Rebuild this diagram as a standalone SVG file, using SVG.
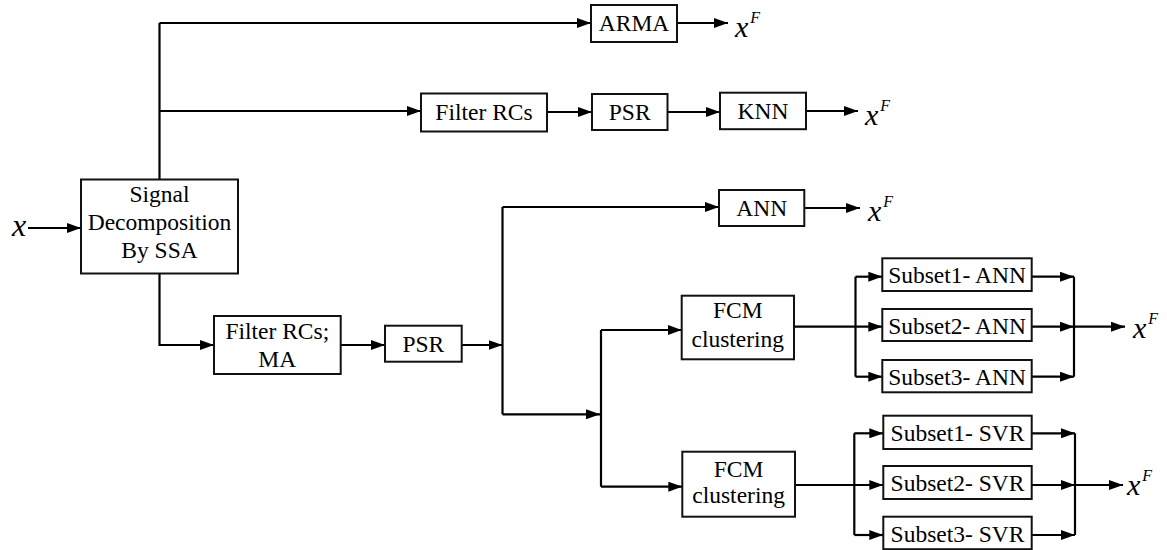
<svg xmlns="http://www.w3.org/2000/svg" width="1167" height="550" viewBox="0 0 1167 550">
<defs>
<marker id="ah" markerUnits="userSpaceOnUse" markerWidth="14" markerHeight="10" refX="14" refY="5" orient="auto"><path d="M0,0 L14,5 L0,10 z" fill="#000"/></marker>
</defs>
<rect width="1167" height="550" fill="#fff"/>
<g id="connectors" fill="none" stroke="#000" stroke-width="2.2">
<line marker-end="url(#ah)" x1="28" y1="228" x2="81" y2="228"/>
<line x1="159.5" y1="179.5" x2="159.5" y2="23"/>
<line marker-end="url(#ah)" x1="159.5" y1="23" x2="591" y2="23"/>
<line marker-end="url(#ah)" x1="159.5" y1="111" x2="421" y2="111"/>
<line marker-end="url(#ah)" x1="677" y1="23" x2="728" y2="23"/>
<line marker-end="url(#ah)" x1="547" y1="112" x2="592" y2="112"/>
<line marker-end="url(#ah)" x1="667.5" y1="112" x2="720" y2="112"/>
<line marker-end="url(#ah)" x1="806" y1="111" x2="858" y2="111"/>
<polyline marker-end="url(#ah)" points="159.5,273.5 159.5,345 214,345"/>
<line marker-end="url(#ah)" x1="340.7" y1="345" x2="385" y2="345"/>
<line marker-end="url(#ah)" x1="461.7" y1="345" x2="502.5" y2="345"/>
<line x1="502.5" y1="207" x2="502.5" y2="414.3"/>
<line marker-end="url(#ah)" x1="502.5" y1="207" x2="719" y2="207"/>
<line marker-end="url(#ah)" x1="804.3" y1="208" x2="860" y2="208"/>
<line marker-end="url(#ah)" x1="502.5" y1="414.3" x2="600" y2="414.3"/>
<line x1="601" y1="330" x2="601" y2="486.7"/>
<line marker-end="url(#ah)" x1="601" y1="330" x2="681.7" y2="330"/>
<line marker-end="url(#ah)" x1="601" y1="486.7" x2="682.3" y2="486.7"/>
<line marker-end="url(#ah)" x1="794" y1="326.7" x2="882.3" y2="326.7"/>
<line x1="855.5" y1="276.7" x2="855.5" y2="376.7"/>
<line marker-end="url(#ah)" x1="855.5" y1="276.7" x2="882.3" y2="276.7"/>
<line marker-end="url(#ah)" x1="855.5" y1="376.7" x2="882.3" y2="376.7"/>
<line marker-end="url(#ah)" x1="1031.7" y1="276.7" x2="1074" y2="276.7"/>
<line marker-end="url(#ah)" x1="1031.7" y1="326.7" x2="1074" y2="326.7"/>
<line marker-end="url(#ah)" x1="1031.7" y1="376.7" x2="1074" y2="376.7"/>
<line x1="1074" y1="276.7" x2="1074" y2="376.7"/>
<line marker-end="url(#ah)" x1="1074" y1="326.7" x2="1125" y2="326.7"/>
<line marker-end="url(#ah)" x1="795" y1="485" x2="883.3" y2="485"/>
<line x1="854.3" y1="433.3" x2="854.3" y2="535"/>
<line marker-end="url(#ah)" x1="854.3" y1="433.3" x2="883.3" y2="433.3"/>
<line marker-end="url(#ah)" x1="854.3" y1="535" x2="883.3" y2="535"/>
<line marker-end="url(#ah)" x1="1031.7" y1="433.3" x2="1075" y2="433.3"/>
<line marker-end="url(#ah)" x1="1031.7" y1="485" x2="1075" y2="485"/>
<line marker-end="url(#ah)" x1="1031.7" y1="535" x2="1075" y2="535"/>
<line x1="1075" y1="433.3" x2="1075" y2="535"/>
<line marker-end="url(#ah)" x1="1075" y1="485" x2="1123" y2="485"/>
</g>
<g fill="#fff" stroke="#111" stroke-width="2">
<rect id="ssa-box" x="81" y="179.5" width="157" height="94"/>
<rect id="arma-box" x="591" y="5" width="86" height="37"/>
<rect id="filter1-box" x="421" y="93.5" width="126" height="38"/>
<rect id="psr1-box" x="592" y="94" width="75.5" height="36"/>
<rect id="knn-box" x="720" y="92.7" width="86" height="36.5"/>
<rect id="filter2-box" x="214" y="316" width="126.7" height="58"/>
<rect id="psr2-box" x="385" y="325.7" width="76.7" height="36"/>
<rect id="ann-box" x="719" y="190" width="85.3" height="36"/>
<rect id="fcm1-box" x="681.7" y="295.7" width="112.3" height="63.6"/>
<rect id="sa1-box" x="882.3" y="258.3" width="149.4" height="32.7"/>
<rect id="sa2-box" x="882.3" y="309" width="149.4" height="32"/>
<rect id="sa3-box" x="882.3" y="360" width="149.4" height="32.3"/>
<rect id="fcm2-box" x="682.3" y="451.7" width="112.7" height="65"/>
<rect id="ss1-box" x="883.3" y="415.7" width="148.4" height="33.3"/>
<rect id="ss2-box" x="883.3" y="466" width="148.4" height="33"/>
<rect id="ss3-box" x="883.3" y="516.7" width="148.4" height="32.5"/>
</g>
<g id="input"><text font-family="Liberation Serif" font-style="italic" font-size="32" x="12" y="236">x</text></g>
<g id="ssa"><text font-family="Liberation Serif" font-size="23.5" text-anchor="middle" x="159.5" y="202">Signal</text><text font-family="Liberation Serif" font-size="23.5" text-anchor="middle" x="159.5" y="230">Decomposition</text><text font-family="Liberation Serif" font-size="23.5" text-anchor="middle" x="159.5" y="258">By SSA</text></g>
<g id="arma"><text font-family="Liberation Serif" font-size="23.5" text-anchor="middle" x="634" y="31">ARMA</text></g>
<g id="out1"><text font-family="Liberation Serif" font-style="italic" font-size="30" x="735" y="37">x<tspan font-size="16" dx="2" dy="-14">F</tspan></text></g>
<g id="filter1"><text font-family="Liberation Serif" font-size="23.5" text-anchor="middle" x="484" y="120">Filter RCs</text></g>
<g id="psr1"><text font-family="Liberation Serif" font-size="23.5" text-anchor="middle" x="629.7" y="120">PSR</text></g>
<g id="knn"><text font-family="Liberation Serif" font-size="23.5" text-anchor="middle" x="763" y="119">KNN</text></g>
<g id="out2"><text font-family="Liberation Serif" font-style="italic" font-size="30" x="865" y="125">x<tspan font-size="16" dx="2" dy="-14">F</tspan></text></g>
<g id="filter2"><text font-family="Liberation Serif" font-size="23.5" text-anchor="middle" x="277.3" y="339">Filter RCs;</text><text font-family="Liberation Serif" font-size="23.5" text-anchor="middle" x="277.3" y="367">MA</text></g>
<g id="psr2"><text font-family="Liberation Serif" font-size="23.5" text-anchor="middle" x="423.3" y="352">PSR</text></g>
<g id="ann"><text font-family="Liberation Serif" font-size="23.5" text-anchor="middle" x="761.7" y="216">ANN</text></g>
<g id="out3"><text font-family="Liberation Serif" font-style="italic" font-size="30" x="868" y="221">x<tspan font-size="16" dx="2" dy="-14">F</tspan></text></g>
<g id="fcm1"><text font-family="Liberation Serif" font-size="23.5" text-anchor="middle" x="737.8" y="318">FCM</text><text font-family="Liberation Serif" font-size="23.5" text-anchor="middle" x="737.8" y="346.7">clustering</text></g>
<g id="sa1"><text font-family="Liberation Serif" font-size="23.5" text-anchor="middle" x="957" y="283">Subset1- ANN</text></g>
<g id="sa2"><text font-family="Liberation Serif" font-size="23.5" text-anchor="middle" x="957" y="333.5">Subset2- ANN</text></g>
<g id="sa3"><text font-family="Liberation Serif" font-size="23.5" text-anchor="middle" x="957" y="384.5">Subset3- ANN</text></g>
<g id="out4"><text font-family="Liberation Serif" font-style="italic" font-size="30" x="1133" y="338">x<tspan font-size="16" dx="2" dy="-14">F</tspan></text></g>
<g id="fcm2"><text font-family="Liberation Serif" font-size="23.5" text-anchor="middle" x="738.6" y="476.7">FCM</text><text font-family="Liberation Serif" font-size="23.5" text-anchor="middle" x="738.6" y="503.3">clustering</text></g>
<g id="ss1"><text font-family="Liberation Serif" font-size="23.5" text-anchor="middle" x="957.5" y="441">Subset1- SVR</text></g>
<g id="ss2"><text font-family="Liberation Serif" font-size="23.5" text-anchor="middle" x="957.5" y="491">Subset2- SVR</text></g>
<g id="ss3"><text font-family="Liberation Serif" font-size="23.5" text-anchor="middle" x="957.5" y="541.5">Subset3- SVR</text></g>
<g id="out5"><text font-family="Liberation Serif" font-style="italic" font-size="30" x="1127" y="495">x<tspan font-size="16" dx="2" dy="-14">F</tspan></text></g>
</svg>
